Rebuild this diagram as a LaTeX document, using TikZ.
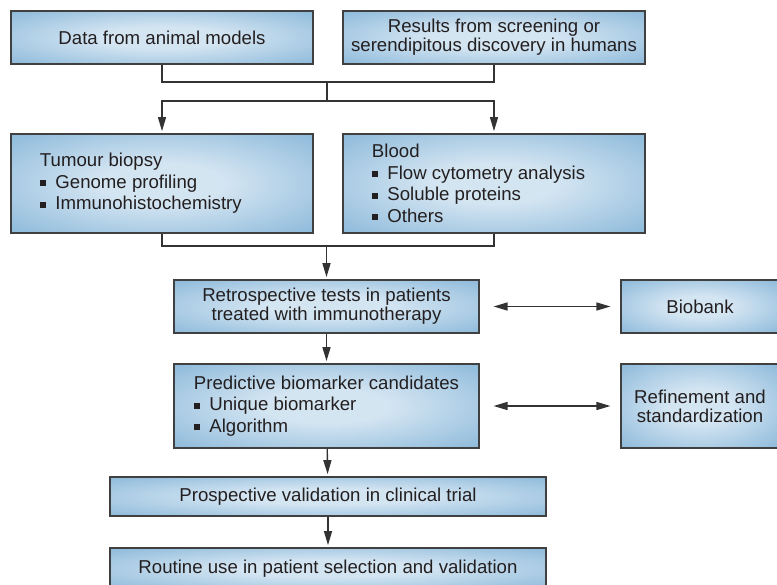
\documentclass[tikz,border=0pt]{standalone}
\usepackage{fontspec}
\setmainfont{Liberation Sans}
\usepackage{tikz}
\usetikzlibrary{arrows.meta, positioning, calc}
\definecolor{boxedge}{RGB}{128,178,214}
\definecolor{boxcore}{RGB}{212,229,242}
\definecolor{ink}{RGB}{35,31,32}
\pgfdeclareradialshading{boxglow}{\pgfpoint{0bp}{0bp}}{%
  color(0bp)=(boxcore); color(10bp)=(boxcore); color(40bp)=(boxedge);
  color(50bp)=(boxedge)}
\newcommand{\itm}{\rule[0.22ex]{0.62ex}{0.62ex}\hspace{0.5em}}
\tikzset{
  flowbox/.style = {draw=black!75, line width=0.9pt, shading=boxglow,
                    align=center, text=ink, inner sep=0pt,
                    font=\fontsize{15.9}{16.4}\selectfont},
  listbox/.style = {flowbox, align=flush left,
                    font=\fontsize{15.9}{18.4}\selectfont},
  link/.style    = {-, line width=1.2pt, black!80},
  flow/.style    = {link, -{Triangle[length=0.42cm, width=0.24cm]},
                    shorten >=2pt},
  both/.style    = {link, {Triangle[length=0.42cm, width=0.24cm]}-{Triangle[length=0.42cm, width=0.24cm]}},
}

\begin{document}
\begin{tikzpicture}[x=0.03cm, y=-0.03cm]
  \useasboundingbox (0,0) rectangle (777,585);

  % --- sources of candidate markers --------------------------------------
  \node[flowbox, minimum width=9.06cm, minimum height=1.59cm] (animal)
    at (162,37.5) {Data from animal models};
  \node[flowbox, minimum width=9.06cm, minimum height=1.59cm] (screen)
    at (494,37.5) {Results from screening or\\serendipitous discovery in humans};

  % --- sample types --------------------------------------------------------
  \node[listbox, text width=7.32cm, inner xsep=0.87cm, minimum height=2.97cm]
    (tumour) at (162,183.5)
    {Tumour biopsy\\\itm Genome profiling\\\itm Immunohistochemistry};
  \node[listbox, text width=7.32cm, inner xsep=0.87cm, minimum height=2.97cm]
    (blood) at (494,183.5)
    {Blood\\\itm Flow cytometry analysis\\\itm Soluble proteins\\\itm Others};

  % --- main line -----------------------------------------------------------
  \node[flowbox, minimum width=9.15cm, minimum height=1.59cm] (retro)
    at (326.5,306.5) {Retrospective tests in patients\\treated with immunotherapy};
  \node[listbox, text width=7.95cm, inner xsep=0.6cm, minimum height=2.52cm]
    (predict) at (326.5,406)
    {\mbox{Predictive biomarker candidates}\\\itm Unique biomarker\\\itm Algorithm};
  \node[flowbox, minimum width=13.08cm, minimum height=1.17cm] (prosp)
    at (328,496.5) {Prospective validation in clinical trial};
  \node[flowbox, minimum width=13.08cm, minimum height=1.23cm] (routine)
    at (328,568.5) {Routine use in patient selection and validation};

  % --- side boxes ----------------------------------------------------------
  \node[flowbox, minimum width=4.74cm, minimum height=1.59cm] (biobank)
    at (700,306.5) {Biobank};
  \node[flowbox, minimum width=4.74cm, minimum height=2.52cm] (refine)
    at (700,406) {Refinement and\\standardization};

  % --- connectors ----------------------------------------------------------
  \coordinate (j1) at (327,82);
  \coordinate (j2) at (327,101);
  \coordinate (j3) at (326.5,246);

  \draw[link] (animal) |- (j1) -| (screen);
  \draw[link] (j1) -- (j2);
  \draw[flow] (j2) -| (tumour);
  \draw[flow] (j2) -| (blood);

  \draw[link] (tumour) |- (j3) -| (blood);
  \draw[flow] (j3) -- (retro);

  \draw[flow] (retro) -- (predict);
  \draw[flow] (predict) -- (prosp);
  \draw[flow] (prosp) -- (routine);

  \draw[both, shorten <=0.42cm, shorten >=0.3cm] (retro) -- (biobank);
  \draw[both, shorten <=0.42cm, shorten >=0.3cm] (predict) -- (refine);

\end{tikzpicture}
\end{document}
